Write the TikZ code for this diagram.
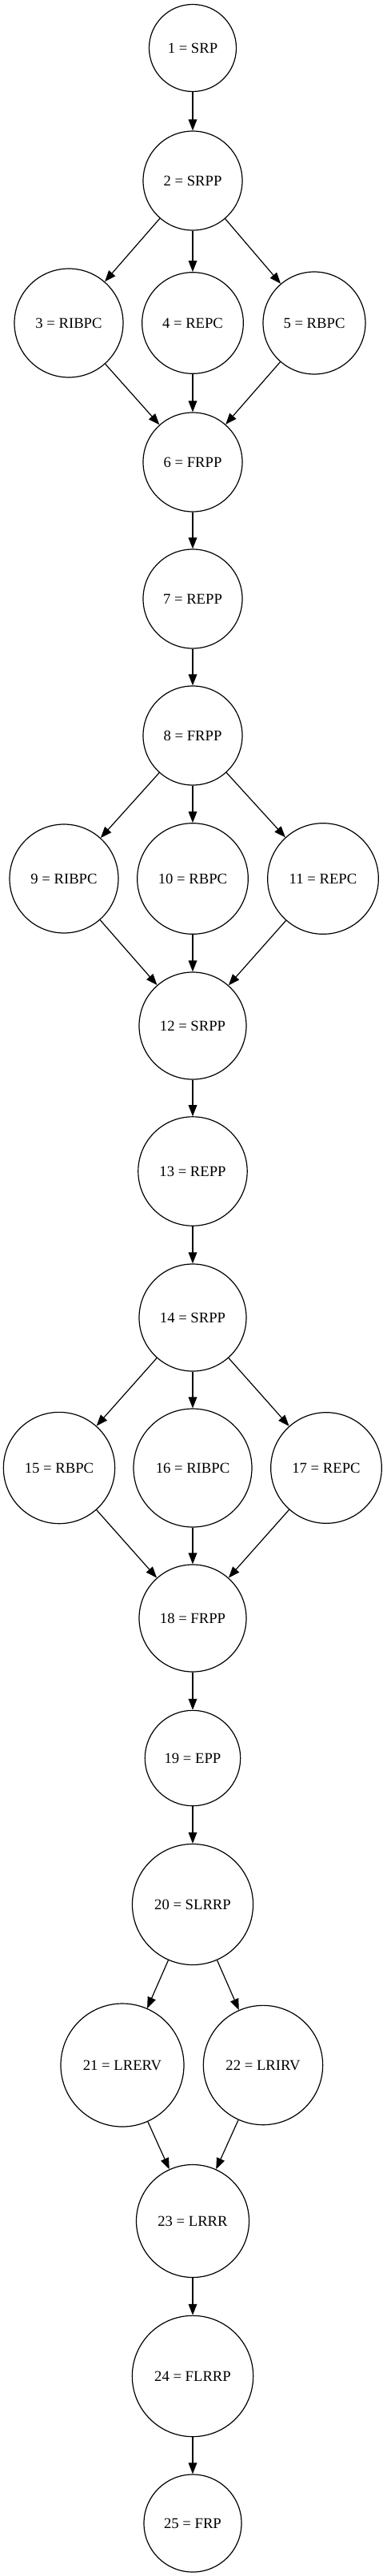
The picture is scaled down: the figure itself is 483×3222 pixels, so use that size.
\documentclass[tikz,border=0pt]{standalone}
\usepackage{fontspec}
\setmainfont{Liberation Serif}
\usetikzlibrary{arrows.meta}

\tikzset{
    proc/.style={circle, draw, line width=0.9pt, inner sep=0pt, minimum size=#1,
        font=\fontsize{14}{16}\selectfont},
    flow/.style={line width=0.9pt, -{Triangle[length=10.5pt,width=8pt]}}
}

\begin{document}
\begin{tikzpicture}[x=0.75pt,y=-0.75pt]
                \useasboundingbox (0,0) rectangle (483,3222);
                % first block
                \node[proc=81.75pt] (n1) at (241,60) {1 = SRP};
                \node[proc=93pt] (n2) at (241,226) {2 = SRPP};
                \node[proc=102pt] (n3) at (86,404) {3 = RIBPC};
                \node[proc=95pt] (n4) at (241,404) {4 = REPC};
                \node[proc=96pt] (n5) at (393,404) {5 = RBPC};
                \node[proc=93pt] (n6) at (241,578) {6 = FRPP};
                \node[proc=93pt] (n7) at (241,749) {7 = REPP};
                % second block
                \node[proc=93pt] (n8) at (241,920) {8 = FRPP};
                \node[proc=102pt] (n9) at (80,1099) {9 = RIBPC};
                \node[proc=104pt] (n10) at (241,1099) {10 = RBPC};
                \node[proc=104pt] (n11) at (404,1099) {11 = REPC};
                \node[proc=100.5pt] (n12) at (241,1283) {12 = SRPP};
                \node[proc=102.3pt] (n13) at (241,1465) {13 = REPP};
                % third block
                \node[proc=100.5pt] (n14) at (241,1648) {14 = SRPP};
                \node[proc=104.5pt] (n15) at (74,1836) {15 = RBPC};
                \node[proc=111pt] (n16) at (241,1836) {16 = RIBPC};
                \node[proc=104pt] (n17) at (408,1836) {17 = REPC};
                \node[proc=100.5pt] (n18) at (241,2024) {18 = FRPP};
                \node[proc=89.5pt] (n19) at (241,2199) {19 = EPP};
                % last block
                \node[proc=113.3pt] (n20) at (241,2382) {20 = SLRRP};
                \node[proc=115.5pt] (n21) at (153,2583) {21 = LRERV};
                \node[proc=112pt] (n22) at (329,2583) {22 = LRIRV};
                \node[proc=105.75pt] (n23) at (241,2778) {23 = LRRR};
                \node[proc=113.5pt] (n24) at (241,2972) {24 = FLRRP};
                \node[proc=91.5pt] (n25) at (241,3156) {25 = FRP};

                \draw[flow] (n1) -- (n2);
                \draw[flow] (n2) -- (n3);
                \draw[flow] (n2) -- (n4);
                \draw[flow] (n2) -- (n5);
                \draw[flow] (n3) -- (n6);
                \draw[flow] (n4) -- (n6);
                \draw[flow] (n5) -- (n6);
                \draw[flow] (n6) -- (n7);
                \draw[flow] (n7) -- (n8);
                \draw[flow] (n8) -- (n9);
                \draw[flow] (n8) -- (n10);
                \draw[flow] (n8) -- (n11);
                \draw[flow] (n9) -- (n12);
                \draw[flow] (n10) -- (n12);
                \draw[flow] (n11) -- (n12);
                \draw[flow] (n12) -- (n13);
                \draw[flow] (n13) -- (n14);
                \draw[flow] (n14) -- (n15);
                \draw[flow] (n14) -- (n16);
                \draw[flow] (n14) -- (n17);
                \draw[flow] (n15) -- (n18);
                \draw[flow] (n16) -- (n18);
                \draw[flow] (n17) -- (n18);
                \draw[flow] (n18) -- (n19);
                \draw[flow] (n19) -- (n20);
                \draw[flow] (n20) -- (n21);
                \draw[flow] (n20) -- (n22);
                \draw[flow] (n21) -- (n23);
                \draw[flow] (n22) -- (n23);
                \draw[flow] (n23) -- (n24);
                \draw[flow] (n24) -- (n25);
            \end{tikzpicture}
\end{document}
